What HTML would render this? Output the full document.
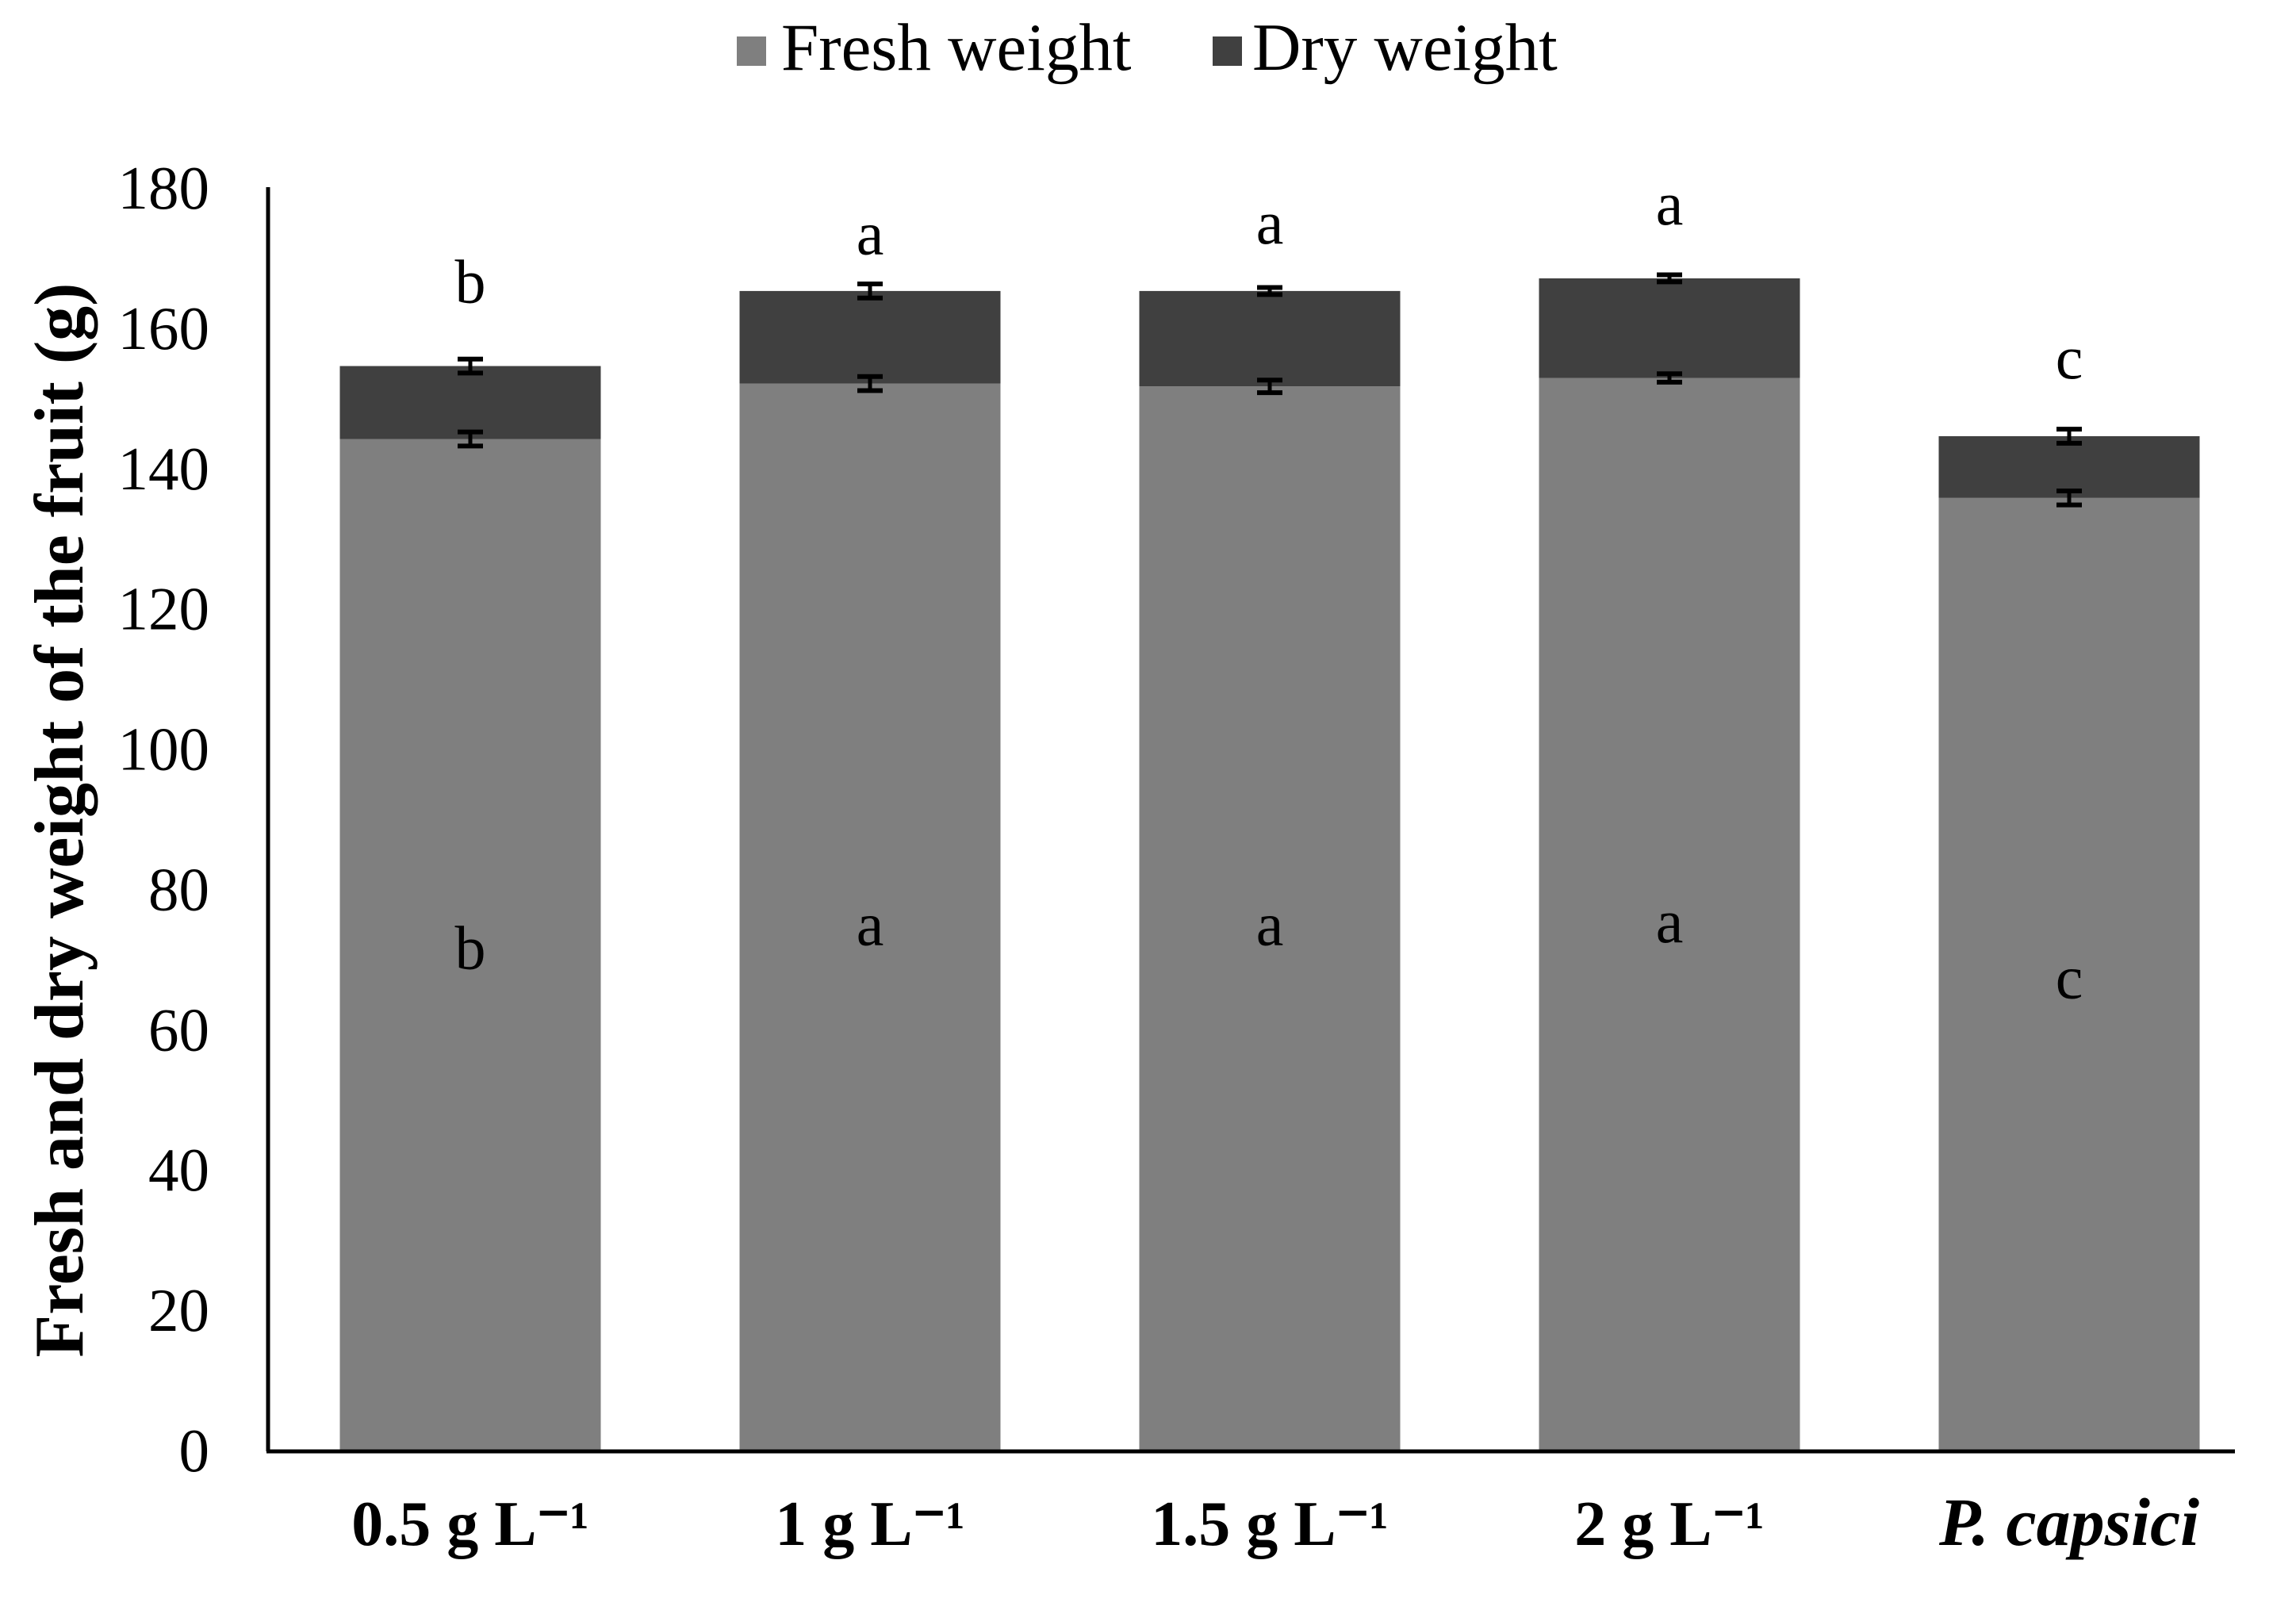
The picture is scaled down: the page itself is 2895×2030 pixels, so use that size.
<!DOCTYPE html>
<html><head><meta charset="utf-8"><style>
html,body{margin:0;padding:0;background:#fff;}
svg{display:block;font-family:"Liberation Serif",serif;}
</style></head><body>
<svg id="chart" width="2895" height="2030" viewBox="0 0 2895 2030" xmlns="http://www.w3.org/2000/svg">
<g id="legend">
  <rect x="929" y="46" width="37" height="37" fill="#7f7f7f"/>
  <text x="985" y="88" font-size="85" fill="#000">Fresh weight</text>
  <rect x="1529" y="46" width="37" height="37" fill="#404040"/>
  <text x="1579" y="88" font-size="85" fill="#000">Dry weight</text>
</g>
<text transform="translate(104,1034) rotate(-90)" text-anchor="middle" font-size="88" font-weight="bold">Fresh and dry weight of the fruit (g)</text>
<g id="yticks"></g>
<g id="bars"></g>
<g id="xlabels"></g>
<line x1="338" y1="236" x2="338" y2="1830" stroke="#000" stroke-width="5"/>
<line x1="336" y1="1830" x2="2818" y2="1830" stroke="#000" stroke-width="5"/>
</svg>
<script>
const categories = ["0.5 g L⁻¹","1 g L⁻¹","1.5 g L⁻¹","2 g L⁻¹","P. capsici"];
const freshValues = [144.1, 152.0, 151.6, 152.8, 135.7];
const dryValues = [10.4, 13.2, 13.6, 14.2, 8.8];
const freshErr = [1.0, 1.0, 0.9, 0.6, 1.0];
const dryErr = [1.0, 1.0, 0.5, 0.5, 1.0];
const topLetters = ["b","a","a","a","c"];
const topLetterValues = [166.4, 173.3, 174.8, 177.5, 155.6];
const midLetters = ["b","a","a","a","c"];
const midLetterValues = [71.4, 74.8, 74.8, 75.2, 67.2];
const yTicks = [0,20,40,60,80,100,120,140,160,180];

const NS="http://www.w3.org/2000/svg";
const y0=1828, yTop=236, yMax=180;
function yScale(v){return y0-(v/yMax)*(y0-yTop);}
const step=504, barW=329, firstCenter=593;
function xCenter(i){return firstCenter+i*step;}
function mk(tag,attrs,parent){const e=document.createElementNS(NS,tag);for(const k in attrs)e.setAttribute(k,attrs[k]);parent.appendChild(e);return e;}

const yt=document.getElementById('yticks');
yTicks.forEach(t=>{
  const e=mk('text',{x:264,y:yScale(t)+27,'text-anchor':'end','font-size':77},yt);
  
  
  e.textContent=t;
});

const bg=document.getElementById('bars');
function errBar(cx,v,e){
  const g=mk('g',{},bg);
  
  
  const a=yScale(v+e), b=yScale(v-e);
  mk('line',{x1:cx,x2:cx,y1:a,y2:b,stroke:'#000','stroke-width':5},g);
  mk('line',{x1:cx-16,x2:cx+16,y1:a,y2:a,stroke:'#000','stroke-width':6},g);
  mk('line',{x1:cx-16,x2:cx+16,y1:b,y2:b,stroke:'#000','stroke-width':6},g);
}
categories.forEach((c,i)=>{
  const cx=xCenter(i), f=freshValues[i], d=dryValues[i];
  const r1=mk('rect',{x:cx-barW/2,y:yScale(f),width:barW,height:y0-yScale(f),fill:'#7f7f7f'},bg);
  
  
  const r2=mk('rect',{x:cx-barW/2,y:yScale(f+d),width:barW,height:yScale(f)-yScale(f+d),fill:'#404040'},bg);
  
  
  errBar(cx,f,freshErr[i]);
  errBar(cx,f+d,dryErr[i]);
  const t1=mk('text',{x:cx,y:yScale(topLetterValues[i])+25,'text-anchor':'middle','font-size':78},bg);
  
  
  t1.textContent=topLetters[i];
  const t2=mk('text',{x:cx,y:yScale(midLetterValues[i])+25,'text-anchor':'middle','font-size':78},bg);
  
  
  t2.textContent=midLetters[i];
});

const xl=document.getElementById('xlabels');
categories.forEach((c,i)=>{
  const t=mk('text',{x:xCenter(i),y:1948,'text-anchor':'middle','font-size':80,'font-weight':'bold'},xl);
  
  
  if(c.startsWith('P.')) { t.setAttribute('font-style','italic'); t.setAttribute('font-size','86'); }
  t.textContent=c;
});
</script>
</body></html>
